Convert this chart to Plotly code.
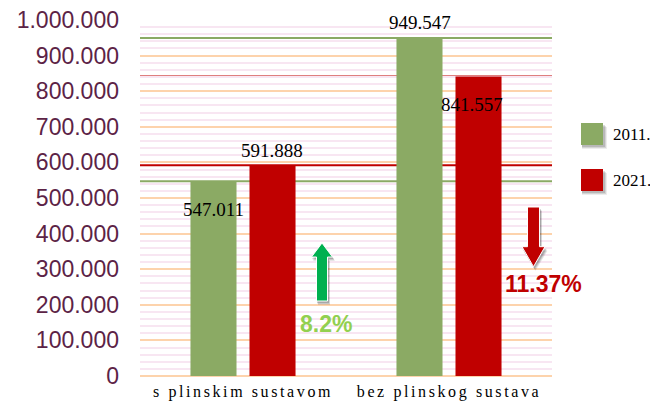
import plotly.graph_objects as go

categories = ["s plinskim sustavom", "bez plinskog sustava"]
series_names = ["2011.", "2021."]
values_2011 = [547011, 949547]
values_2021 = [591888, 841557]
changes = ["8.2%", "11.37%"]
y_ticks = list(range(0, 1000001, 100000))

GREEN = "#8BAA64"
RED = "#C00000"
# page body has an 8px margin, so the figure is drawn 8px right/down
OX, OY = 8, 8
W, H = 658 - OX, 408 - OY
L, R, T, B = 140 - OX, 106, 20 - OY, 32
PW, PH = W - L - R, H - T - B
YMAX = 1000000


def px_x(px):
    return (px - OX - L) / PW


def px_py(py):
    return (H - B - (py - OY)) / PH


def px_y(py):
    return px_py(py) * YMAX


def fmt(v):
    return f"{v:,}".replace(",", ".")


fig = go.Figure()
colors = [GREEN, RED]
series = [values_2011, values_2021]
for name, vals, col in zip(series_names, series, colors):
    fig.add_trace(go.Bar(x=categories, y=vals, name=name, marker=dict(color=col, line=dict(width=0)),
                         showlegend=False))

shapes = []
# reference lines at bar values
for vals, col in zip(series, colors):
    for v in vals:
        shapes.append(dict(type="line", xref="paper", yref="y", x0=0, x1=1, y0=v, y1=v,
                           line=dict(color=col, width=2), layer="between"))

annotations = []
# data labels
xshifts = [-29.5, 29]
label_pos = [["below", "above"], ["above", "below"]]  # [series][category]
for si, (vals, xs) in enumerate(zip(series, xshifts)):
    for ci, v in enumerate(vals):
        below = label_pos[si][ci] == "below"
        annotations.append(dict(x=categories[ci], y=v, xref="x", yref="y", text=fmt(v), showarrow=False,
                                xanchor="center", yanchor="middle",
                                xshift=xs - (6 if (below and ci == 1) else 0), yshift=-28 if below else 15,
                                font=dict(family="Liberation Serif", size=19, color="black")))


def arrow_path(cx, shaft_w, head_w, y_start, y_headbase, y_tip):
    pts = [(cx - shaft_w / 2, y_start), (cx - shaft_w / 2, y_headbase), (cx - head_w / 2, y_headbase),
           (cx, y_tip), (cx + head_w / 2, y_headbase), (cx + shaft_w / 2, y_headbase),
           (cx + shaft_w / 2, y_start)]
    return "M " + " L ".join(f"{px_x(a):.5f},{px_y(b):.1f}" for a, b in pts) + " Z"


def arrow_shapes(cx, shaft_w, head_w, y_start, y_headbase, y_tip, col):
    out = []
    for off, op in [(4, 0.10), (3, 0.13), (2, 0.16)]:
        out.append(dict(type="path", xref="paper", yref="y",
                        path=arrow_path(cx + off * 0.5, shaft_w + 1, head_w + 1, y_start + off,
                                        y_headbase + off, y_tip + off),
                        fillcolor=f"rgba(0,0,0,{op})", line=dict(width=0), layer="above"))
    out.append(dict(type="path", xref="paper", yref="y",
                    path=arrow_path(cx, shaft_w, head_w, y_start, y_headbase, y_tip),
                    fillcolor=col, line=dict(color="white", width=1), layer="above"))
    return out


shapes += arrow_shapes(322, 11, 21, 301, 257, 243, "#00B050")
shapes += arrow_shapes(533.5, 12, 23, 207, 246.7, 266.7, "#C00000")

annotations.append(dict(x=px_x(326), y=px_y(324), xref="paper", yref="y", text=f"<b>{changes[0]}</b>",
                        showarrow=False, xanchor="center", yanchor="middle",
                        font=dict(family="Liberation Sans", size=23, color="#92D050")))
annotations.append(dict(x=px_x(543), y=px_y(284), xref="paper", yref="y", text=f"<b>{changes[1]}</b>",
                        showarrow=False, xanchor="center", yanchor="middle",
                        font=dict(family="Liberation Sans", size=23, color="#C00000")))

# manual legend
for i, (name, col) in enumerate(zip(series_names, colors)):
    cy = 134 + 46 * i
    x0, x1 = 581, 603
    y0, y1 = cy - 11, cy + 11
    for off, op in [(4, 0.07), (3, 0.10), (2, 0.13)]:
        shapes.append(dict(type="rect", xref="paper", yref="paper",
                           x0=px_x(x0 + 1), x1=px_x(x1 + off), y0=px_py(y1 + off), y1=px_py(y0 + off),
                           fillcolor=f"rgba(0,0,0,{op})", line=dict(width=0), layer="above"))
    shapes.append(dict(type="rect", xref="paper", yref="paper", x0=px_x(x0), x1=px_x(x1),
                       y0=px_py(y1), y1=px_py(y0), fillcolor=col, line=dict(width=0), layer="above"))
    annotations.append(dict(x=px_x(611), y=px_py(cy), xref="paper", yref="paper", text=name,
                            xanchor="left", yanchor="middle", showarrow=False,
                            font=dict(family="Liberation Serif", size=17, color="black")))

fig.update_layout(
    width=W, height=H,
    margin=dict(l=L, r=R, t=T, b=B, autoexpand=False),
    plot_bgcolor="white", paper_bgcolor="white",
    barmode="group", bargap=0.427, bargroupgap=0.22,
    separators=",.",
    shapes=shapes, annotations=annotations,
    showlegend=False,
)
fig.update_xaxes(
    tickmode="array", tickvals=categories,
    ticktext=[f'<span style="letter-spacing:2.6px">{c}</span>' for c in categories],
    tickfont=dict(family="Liberation Serif", size=16, color="black"),
    showgrid=False, showline=False, ticks="", ticklabelstandoff=4, automargin=False,
)
fig.update_yaxes(
    range=[0, YMAX], tickvals=y_ticks, ticktext=[fmt(v) for v in y_ticks],
    tickfont=dict(family="Liberation Sans", size=23, color="#5C2346"),
    showgrid=True, gridcolor="#FDD3AC", gridwidth=2,
    zeroline=True, zerolinecolor="#FDD3AC", zerolinewidth=2,
    minor=dict(dtick=20000, tick0=0, showgrid=True, gridcolor="#F8E6F2", gridwidth=2),
    showline=False, ticks="", ticklabelstandoff=20, automargin=False, ticklabeloverflow="allow",
)
fig.write_html("out.html")
